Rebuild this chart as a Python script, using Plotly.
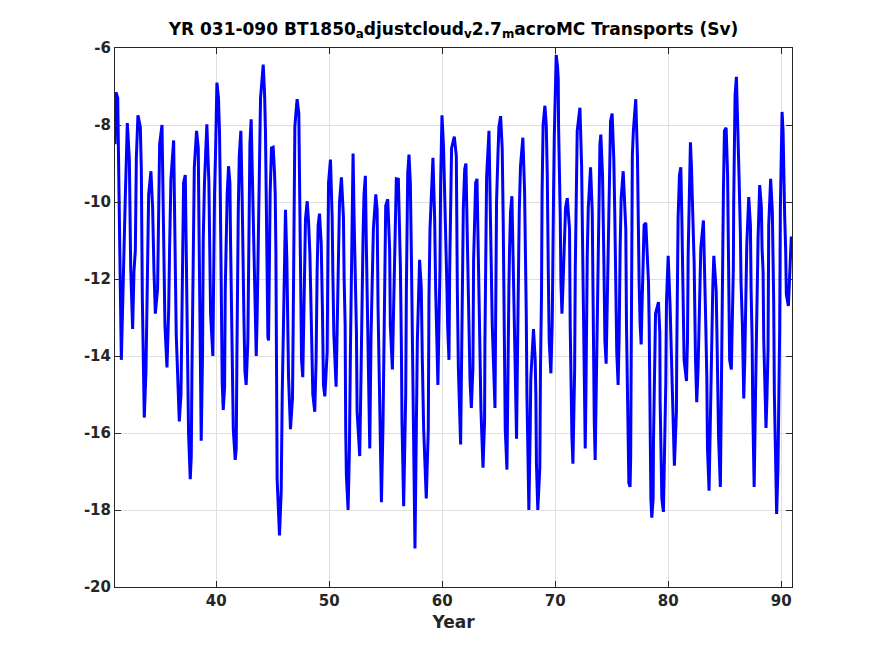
import plotly.graph_objects as go

# Turning points (year, Sv)
year = [
    31.04, 31.13, 31.28, 31.36, 31.45, 31.60, 31.75, 31.84, 31.95, 32.13, 32.31, 32.43, 32.60, 32.72, 32.84, 32.93,
    33.07, 33.28, 33.37, 33.46, 33.63, 33.78, 33.87, 33.93, 34.02, 34.22, 34.37, 34.49, 34.61, 34.81, 34.90, 34.99,
    35.20, 35.29, 35.37, 35.46, 35.64, 35.79, 35.87, 35.99, 36.23, 36.32, 36.37, 36.46, 36.73, 36.88, 36.96, 37.02,
    37.11, 37.26, 37.37, 37.46, 37.55, 37.70, 37.79, 37.85, 37.91, 37.97, 38.06, 38.26, 38.41,
    38.47, 38.56, 38.67, 38.79, 38.85, 38.96, 39.05, 39.17, 39.35, 39.41, 39.50, 39.70, 39.79, 39.85, 39.94, 40.06,
    40.20, 40.29, 40.35, 40.41, 40.47, 40.53, 40.62, 40.74, 40.80, 40.89, 40.97, 41.09, 41.21, 41.27, 41.33, 41.42,
    41.51, 41.68, 41.77, 41.83, 41.89, 41.95, 42.04, 42.18, 42.30, 42.36, 42.45, 42.54, 42.65, 42.80, 42.86, 42.92,
    42.98, 43.09, 43.18, 43.27, 43.39, 43.45, 43.54, 43.62, 43.71, 43.80, 43.92, 44.16, 44.28, 44.36, 44.42, 44.48,
    44.57, 44.63, 44.69, 44.77, 44.89, 45.04, 45.16, 45.22, 45.28, 45.33, 45.39, 45.60, 45.75, 45.84, 45.96, 46.04,
    46.13, 46.25, 46.34, 46.40, 46.57, 46.75, 46.81, 46.87, 46.96, 47.05, 47.16, 47.31, 47.37, 47.46, 47.55, 47.66,
    47.75, 47.81, 47.90, 48.05, 48.17, 48.29, 48.40, 48.55, 48.72, 48.84, 48.93, 49.02, 49.14, 49.29, 49.40, 49.49,
    49.61, 49.82, 49.88, 49.94, 50.11, 50.26, 50.32, 50.41, 50.61, 50.70, 50.79, 50.91, 51.08, 51.26, 51.32, 51.41,
    51.46, 51.52, 51.67, 51.79, 51.88, 51.97, 52.05, 52.11, 52.20, 52.32, 52.41, 52.47, 52.70, 52.79, 52.85, 52.91,
    53.00, 53.08, 53.20, 53.29, 53.41, 53.59,
    53.70, 53.82, 53.91, 54.12, 54.24, 54.32, 54.47, 54.62, 54.76, 54.85, 54.91, 55.00, 55.18, 55.35, 55.41, 55.59,
    55.71, 55.80, 55.94, 56.12, 56.30, 56.39, 56.44, 56.59, 56.77, 56.83, 56.89, 56.95, 57.06, 57.18, 57.27, 57.36,
    57.42, 57.50, 57.59, 57.71, 57.80, 58.00, 58.15, 58.24, 58.36, 58.59, 58.77, 58.83, 58.92, 59.18, 59.33, 59.42,
    59.53, 59.62, 59.71, 59.80, 59.86, 59.98, 60.12, 60.30, 60.42, 60.48, 60.60, 60.66, 60.74, 60.83, 61.07,
    61.25, 61.34, 61.43, 61.63, 61.72, 61.78, 61.87, 61.99, 62.10, 62.22, 62.37, 62.46, 62.58, 62.72, 62.78, 62.87,
    62.96, 63.08, 63.14, 63.25, 63.37, 63.43, 63.61, 63.75, 63.78, 63.84, 63.93, 64.14, 64.28, 64.34, 64.43, 64.67,
    64.76, 64.81, 64.93, 65.02, 65.17, 65.31, 65.40, 65.46, 65.52, 65.58, 65.73, 65.81, 65.90, 65.96, 66.05, 66.17,
    66.26, 66.34, 66.43, 66.58, 66.67, 66.73, 66.82, 66.93, 67.14, 67.29, 67.38, 67.44, 67.50, 67.61, 67.67, 67.79,
    67.84, 68.08, 68.23, 68.29, 68.34, 68.46, 68.64, 68.70, 68.79, 68.84, 68.93,
    69.09, 69.21, 69.30, 69.33, 69.39, 69.47, 69.62, 69.74, 69.80, 69.86, 69.92, 69.97, 70.09, 70.21, 70.27, 70.30,
    70.36, 70.45, 70.51, 70.60, 70.68, 70.74, 70.83, 70.92, 71.07, 71.27, 71.33, 71.39, 71.48, 71.57, 71.72, 71.78,
    71.86, 71.95, 72.19, 72.34, 72.43, 72.51, 72.57, 72.66, 72.72, 72.78, 72.84, 72.93, 73.13, 73.28, 73.31, 73.37,
    73.46, 73.54, 73.66, 73.72, 73.87, 73.96, 74.04, 74.19, 74.31, 74.40, 74.51, 74.63, 74.72, 74.81, 74.90, 75.04,
    75.19, 75.28, 75.37, 75.45, 75.57, 75.66, 75.75, 75.84, 76.02, 76.16, 76.25, 76.31, 76.40, 76.52,
    76.63, 76.68, 76.71, 76.74, 76.83, 76.92, 77.13, 77.28, 77.34, 77.43, 77.52, 77.61, 77.67, 77.75, 77.87, 78.02,
    78.17, 78.26, 78.32, 78.38, 78.47, 78.55, 78.67, 78.70, 78.76, 78.88, 79.14, 79.26, 79.29, 79.35, 79.44, 79.58,
    79.70, 79.79, 79.85, 80.00, 80.17, 80.23, 80.38, 80.55, 80.73, 80.76, 80.82, 80.88, 81.00, 81.12, 81.21, 81.29,
    81.41, 81.62, 81.71, 81.77, 81.83, 81.88, 81.97, 82.06, 82.18, 82.30, 82.42, 82.53, 82.65, 82.77, 82.89, 83.12,
    83.24, 83.33, 83.42, 83.48, 83.62, 83.77, 83.86, 83.95, 84.04,
    84.25, 84.31, 84.37, 84.46, 84.62, 84.71, 84.80, 84.89, 84.98, 85.13, 85.26, 85.32, 85.38, 85.44, 85.59, 85.71,
    85.77, 85.80, 85.86, 85.92, 86.04, 86.16, 86.27, 86.39, 86.45, 86.57, 86.69, 86.78, 86.87, 86.96, 87.13, 87.28,
    87.34, 87.43, 87.49, 87.61, 87.75, 87.87, 87.96, 88.10, 88.25, 88.31, 88.40, 88.46, 88.52, 88.66, 88.75, 88.84,
    88.90, 89.07, 89.22, 89.28, 89.34, 89.40, 89.49, 89.60, 89.72, 89.81, 89.87, 89.93, 89.99, 90.08, 90.17, 90.22,
    90.31, 90.40, 90.46, 90.64, 90.76, 90.90, 90.96,
]

transport = [
    -8.5, -7.15, -7.3, -9.2, -11.4, -14.1, -12.3, -10.8, -9.9, -7.95, -8.9, -11.7, -13.3, -11.8, -11.25, -8.85,
    -7.75, -8.05, -9.15, -12.5, -15.6, -14.4, -12.45, -11.2, -9.8, -9.2, -10.15, -11.8, -12.9, -12.25, -10.4, -8.5,
    -8.0, -9.5, -10.8, -13.2, -14.3, -12.8, -11.25, -9.4, -8.4, -9.9, -11.5, -13.45, -15.7, -15.0, -13.0, -10.7,
    -9.5, -9.3, -11.8, -14.8, -16.0, -17.2, -16.6, -14.4, -12.3, -10.0, -9.1, -8.15, -8.6,
    -10.5, -13.5, -16.2, -13.9, -11.0, -9.5, -8.6, -7.98, -9.5, -11.0, -12.9, -14.0, -11.2, -9.8, -8.7, -6.9,
    -7.3, -8.2, -9.5, -11.5, -13.2, -14.7, -15.4, -14.8, -12.25, -11.0, -9.8, -9.07, -9.5, -11.07, -12.3, -14.3,
    -15.9, -16.7, -16.4, -14.0, -11.8, -10.25, -8.8, -8.15, -10.0, -12.0, -13.0, -14.4, -14.75, -13.6, -11.5, -9.8,
    -8.5, -7.85, -9.1, -10.5, -11.8, -13.45, -14.0, -13.0, -11.3, -9.35, -7.3, -6.43, -7.2, -8.2, -10.0, -11.35,
    -13.5, -13.6, -11.5, -9.8, -8.6, -8.58, -9.25, -9.8, -11.25, -13.6, -17.2, -18.66, -17.5, -15.0, -12.6, -11.25,
    -10.2, -11.5, -13.0, -14.55, -15.9, -15.1, -13.2, -10.0, -8.05, -7.7, -7.33, -7.7, -9.8, -11.5, -14.1, -14.55,
    -13.0, -11.0, -10.45, -9.98, -10.5, -11.35, -12.6, -15.0, -15.45, -14.1, -11.8, -10.6, -10.3, -11.07, -12.8, -14.75,
    -15.05, -13.9, -11.5, -9.5, -8.9, -10.4, -11.8, -13.45, -14.8, -13.2, -11.35, -10.0, -9.36, -10.4, -12.0, -13.2,
    -15.9, -17.1, -18.0, -16.4, -13.8, -11.5, -9.2, -8.74, -10.4, -11.8, -13.4, -15.45, -16.6, -15.0, -13.4, -11.8,
    -10.8, -9.8, -9.32, -11.2, -13.45, -16.4,
    -13.5, -11.8, -10.7, -9.8, -10.2, -12.7, -15.2, -17.8, -15.8, -13.3, -11.5, -10.1, -9.93, -11.25, -13.2, -14.35,
    -12.6, -11.25, -9.4, -9.41, -11.7, -13.8, -15.7, -17.9, -15.0, -12.25, -10.25, -9.25, -8.77, -9.5, -11.35, -13.2,
    -15.0, -17.3, -19.0, -15.9, -13.6, -11.5, -12.25, -14.1, -15.9, -17.7, -15.9, -12.5, -10.7, -8.85, -10.4, -12.25,
    -13.6, -14.75, -13.2, -11.8, -9.5, -7.75, -8.6, -10.4, -12.25, -13.2, -14.1, -11.8, -10.0, -8.6, -8.3,
    -8.8, -12.3, -14.3, -16.3, -14.3, -12.1, -10.15, -9.15, -9.0, -10.9, -13.2, -14.6, -15.35, -14.3, -11.5, -10.15,
    -9.5, -9.4, -10.5, -12.1, -13.6, -15.4, -16.9, -15.7, -13.7, -10.6, -9.35, -8.15, -10.25, -11.3, -13.2, -15.35,
    -12.8, -10.0, -8.8, -8.05, -7.77, -8.6, -10.5, -12.3, -14.1, -15.9, -16.95, -13.9, -12.3, -11.25, -10.25, -9.85,
    -11.35, -12.3, -14.4, -16.15, -13.8, -11.8, -10.25, -9.07, -8.33, -9.7, -11.2, -12.9, -15.0, -17.3, -18.0, -15.9,
    -14.6, -13.3, -14.1, -15.0, -16.8, -18.0, -16.9, -14.3, -12.4, -9.8, -8.0,
    -7.5, -8.0, -9.3, -10.6, -11.8, -13.6, -14.45, -13.1, -11.98, -9.7, -8.3, -7.4, -6.18, -6.5, -6.8, -8.05,
    -8.8, -10.4, -12.1, -12.9, -12.25, -11.7, -11.35, -10.15, -9.9, -10.7, -13.2, -14.5, -16.1, -16.8, -14.4, -11.7,
    -10.0, -8.15, -7.55, -9.07, -11.2, -13.45, -15.0, -16.4, -15.0, -12.8, -11.35, -10.15, -9.1, -10.25, -11.35, -13.6,
    -15.7, -16.7, -14.5, -13.2, -9.8, -8.5, -8.25, -9.3, -11.5, -13.6, -14.2, -12.3, -11.25, -9.0, -7.9, -7.7,
    -8.9, -10.4, -12.7, -13.9, -14.75, -13.5, -11.2, -9.9, -9.2, -9.98, -10.7, -13.2, -15.45, -17.3,
    -17.4, -16.65, -15.0, -12.35, -8.8, -8.15, -7.33, -8.8, -10.4, -12.1, -13.2, -13.7, -12.9, -11.8, -10.6, -10.54,
    -11.35, -12.1, -13.2, -15.45, -17.7, -18.2, -17.7, -16.2, -14.6, -12.9, -12.6, -13.4, -15.2, -16.3, -17.7, -18.05,
    -16.3, -14.7, -12.6, -11.4, -12.7, -13.6, -15.0, -16.85, -15.45, -13.9, -11.5, -10.4, -9.3, -9.1, -10.4, -12.2,
    -14.1, -14.65, -13.6, -11.35, -10.4, -8.9, -8.45, -9.07, -10.6, -11.6, -14.1, -15.2, -14.3, -13.0, -11.2, -10.48,
    -11.8, -13.2, -14.55, -16.4, -17.5, -15.0, -13.2, -12.2, -11.4,
    -12.3, -13.3, -14.5, -16.1, -17.4, -14.1, -12.1, -9.7, -8.15, -8.07, -9.3, -10.9, -12.6, -14.1, -14.35, -12.6,
    -11.7, -10.0, -8.15, -7.23, -6.75, -7.9, -9.3, -10.8, -12.1, -13.2, -15.1, -14.1, -13.0, -11.1, -9.87, -10.6,
    -12.3, -13.55, -15.45, -17.4, -14.65, -12.1, -10.9, -9.56, -10.15, -11.2, -11.8, -13.6, -14.5, -15.87, -15.0, -13.8,
    -10.6, -9.4, -10.25, -11.35, -12.6, -15.0, -16.2, -18.1, -16.9, -15.0, -13.3, -10.15, -8.4, -7.66, -8.15, -9.2,
    -10.35, -11.25, -12.4, -12.7, -11.98, -10.9, -11.0,
]

x_ticks = [40, 50, 60, 70, 80, 90]
y_ticks = [-20, -18, -16, -14, -12, -10, -8, -6]

title_text = ("YR 031-090 BT1850<sub>a</sub>djustcloud<sub>v</sub>2.7"
              "<sub>m</sub>acroMC Transports (Sv)")

fig = go.Figure()
fig.add_trace(go.Scatter(
    x=year, y=transport, mode="lines",
    line=dict(color="#0000ff", width=3),
    showlegend=False, hoverinfo="x+y",
))

tick_font = dict(family="DejaVu Sans", size=15, color="#262626", weight="bold")

axis_common = dict(
    showline=True, linecolor="#262626", linewidth=1, mirror="ticks",
    ticks="inside", ticklen=6, tickcolor="#262626",
    showgrid=True, gridcolor="#dfdfdf", gridwidth=1,
    zeroline=False,
    tickfont=tick_font,
)

fig.update_xaxes(
    range=[31.04, 90.96], tickvals=x_ticks,
    ticktext=["<b>%d</b>" % v for v in x_ticks],
    title=dict(text="<b>Year</b>", font=dict(family="DejaVu Sans", size=17, color="#262626", weight="bold"), standoff=7),
    **axis_common,
)
fig.update_yaxes(
    range=[-20, -6], tickvals=y_ticks,
    ticktext=["<b>%d</b>" % v for v in y_ticks],
    **axis_common,
)

fig.update_layout(
    width=867, height=648,
    paper_bgcolor="white", plot_bgcolor="white",
    margin=dict(l=107, r=83, t=40, b=69),
    title=dict(text="<b>" + title_text + "</b>", xref="paper", x=0.5, xanchor="center",
               y=0.968, yanchor="middle",
               font=dict(family="DejaVu Sans", size=17, color="#000000", weight="bold")),
    font=dict(family="DejaVu Sans", color="#262626"),
)

fig.write_html("out.html")
